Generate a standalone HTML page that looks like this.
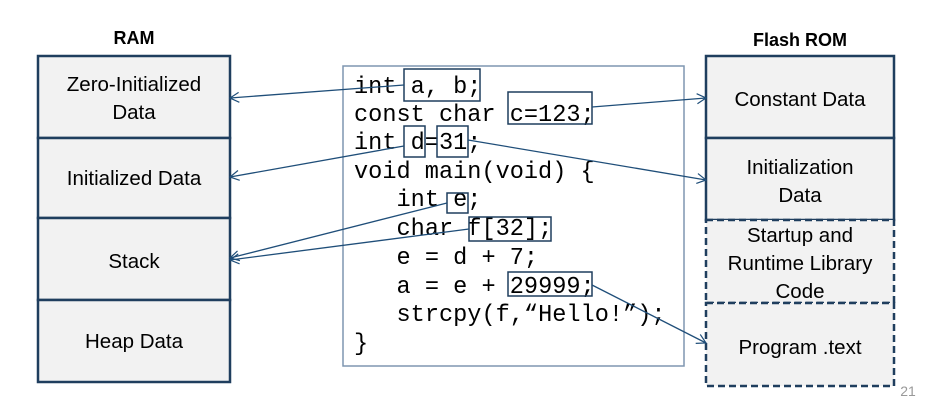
<!DOCTYPE html>
<html><head><style>body{margin:0;background:#fff}svg{display:block}</style></head>
<body>
<svg width="930" height="403" xmlns="http://www.w3.org/2000/svg" font-family="Liberation Sans, sans-serif">
<defs><marker id="a" markerWidth="12" markerHeight="12" refX="10" refY="6" orient="auto" markerUnits="userSpaceOnUse"><path d="M1,1 L10,6 L1,11" fill="none" stroke="#1f4e79" stroke-width="1.2"/></marker></defs>
<text x="134" y="44" font-size="18" font-weight="bold" text-anchor="middle">RAM</text>
<text x="800" y="46" font-size="18" font-weight="bold" text-anchor="middle">Flash ROM</text>
<g stroke="#1f3e5e" stroke-width="2.5" fill="#f2f2f2">
<rect x="38" y="56" width="192" height="82"/><rect x="38" y="138" width="192" height="80"/>
<rect x="38" y="218" width="192" height="82"/><rect x="38" y="300" width="192" height="82"/>
<rect x="706" y="56" width="188" height="82"/><rect x="706" y="138" width="188" height="82"/>
</g>
<g stroke="#1f3e5e" stroke-width="2.5" fill="#f2f2f2" stroke-dasharray="7,4">
<rect x="706" y="220" width="188" height="83"/><rect x="706" y="303" width="188" height="83"/>
</g>
<g font-size="20.5" text-anchor="middle" fill="#000">
<text x="134" y="91">Zero-Initialized</text><text x="134" y="119">Data</text>
<text x="134" y="185">Initialized Data</text><text x="134" y="268">Stack</text><text x="134" y="348">Heap Data</text>
<text x="800" y="106">Constant Data</text>
<text x="800" y="174">Initialization</text><text x="800" y="202">Data</text>
<text x="800" y="242">Startup and</text><text x="800" y="270">Runtime Library</text><text x="800" y="298">Code</text>
<text x="800" y="354">Program .text</text>
</g>
<text x="908" y="396" font-size="14" fill="#999" text-anchor="middle">21</text>
<rect x="343" y="66" width="341" height="300" fill="#fff" stroke="#7f96b0" stroke-width="1.5"/>
<g font-family="Liberation Mono, monospace" font-size="23.6" fill="#000">
<text x="354" y="93">int a, b;</text>
<text x="354" y="121">const char c=123;</text>
<text x="354" y="149">int d=31;</text>
<text x="354" y="178">void main(void) {</text>
<text x="396.5" y="206">int e;</text>
<text x="396.5" y="235">char f[32];</text>
<text x="396.5" y="264">e = d + 7;</text>
<text x="396.5" y="293">a = e + 29999;</text>
<text x="396.5" y="321">strcpy(f,“Hello!”);</text>
<text x="354" y="350">}</text>
</g>
<g fill="none" stroke="#1f3e5e" stroke-width="1.5">
<rect x="404" y="69" width="76" height="32"/><rect x="508" y="92" width="84" height="32"/>
<rect x="404" y="126" width="21" height="31"/><rect x="437" y="126" width="31" height="31"/>
<rect x="447" y="193" width="21" height="20"/><rect x="469" y="217" width="82" height="24"/>
<rect x="508" y="272" width="84" height="24"/>
</g>
<g stroke="#1f4e79" stroke-width="1.3" fill="none" marker-end="url(#a)">
<line x1="404" y1="85" x2="230" y2="98"/>
<line x1="592" y1="107" x2="706" y2="98"/>
<line x1="404" y1="146" x2="230" y2="177"/>
<line x1="468" y1="140" x2="706" y2="180"/>
<line x1="447" y1="203" x2="230" y2="258"/>
<line x1="469" y1="229" x2="230" y2="260"/>
<line x1="592" y1="285" x2="706" y2="343"/>
</g>
</svg>
</body></html>
